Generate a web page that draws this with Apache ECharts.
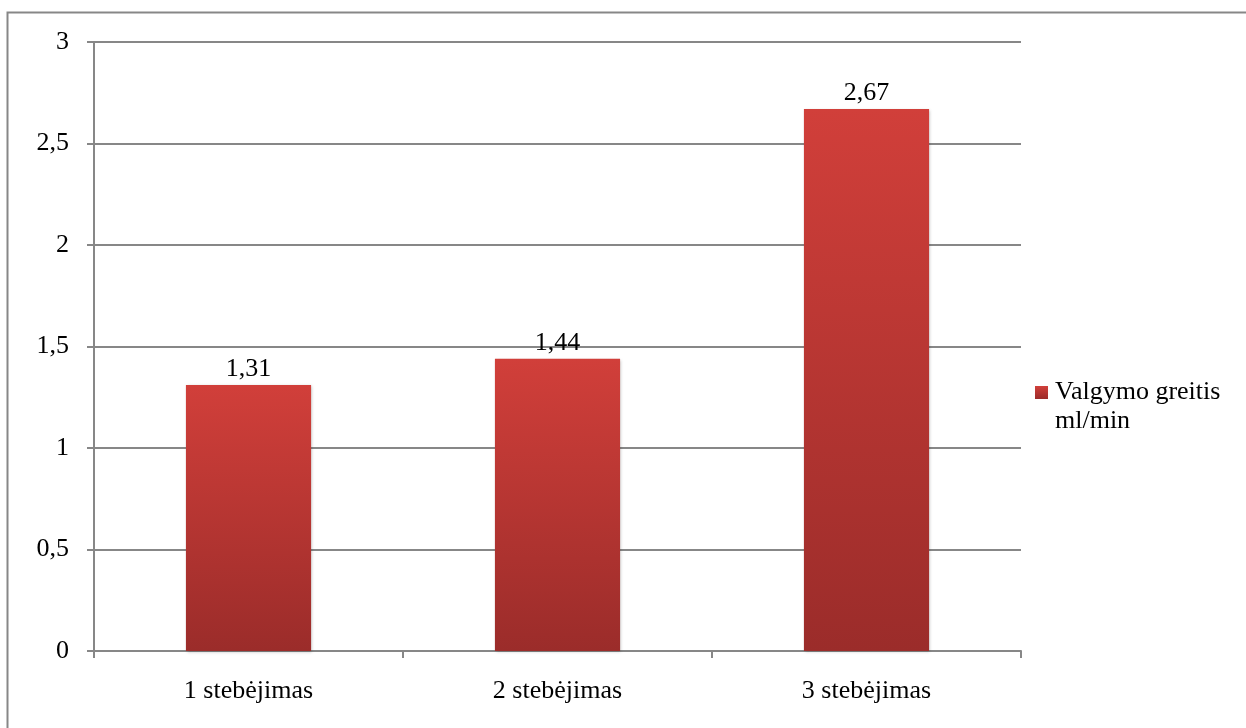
<!DOCTYPE html>
<html>
<head>
<meta charset="utf-8">
<script src="https://cdn.jsdelivr.net/npm/echarts@6/dist/echarts.min.js"></script>
<style>
  html, body { margin: 0; padding: 0; background: #fff; }
  #chart { width: 1246px; height: 728px; }
</style>
</head>
<body>
<div id="chart"></div>
<script>
// Observation rounds and eating speed (ml/min)
const categories = ['1 stebėjimas', '2 stebėjimas', '3 stebėjimas'];
const speedValues = [1.31, 1.44, 2.67];
const seriesName = 'Valgymo greitis\nml/min';

const fmt = v => String(v).replace('.', ',');
const serif = '"Liberation Serif", "DejaVu Serif", serif';
const axisGray = '#878787';

const chart = echarts.init(document.getElementById('chart'), null, { renderer: 'canvas' });

chart.setOption({
  animation: false,
  backgroundColor: '#ffffff',
  textStyle: { fontFamily: serif },
  graphic: [{
    // chart frame (runs past the right and bottom edges of the page)
    type: 'rect',
    shape: { x: 7.5, y: 12.5, width: 1260, height: 740 },
    style: { fill: 'none', stroke: axisGray, lineWidth: 2 },
    silent: true
  }],
  grid: { left: 94, right: 225, top: 42, bottom: 77, containLabel: false },
  legend: {
    orient: 'vertical',
    left: 1035,
    top: 349,
    padding: 0,
    itemWidth: 13,
    itemHeight: 13,
    itemGap: 0,
    icon: 'rect',
    // leading blank line keeps the marker level with the first text line
    formatter: name => '\n' + name,
    textStyle: { fontFamily: serif, fontSize: 26, color: '#000', lineHeight: 29, padding: [0, 0, 0, 2] },
    data: [seriesName]
  },
  xAxis: {
    type: 'category',
    data: categories,
    axisLine: { lineStyle: { color: axisGray, width: 2 } },
    axisTick: { show: true, alignWithLabel: false, length: 7, lineStyle: { color: axisGray, width: 2 } },
    axisLabel: { fontFamily: serif, fontSize: 26, color: '#000', margin: 27 }
  },
  yAxis: {
    type: 'value',
    min: 0,
    max: 3,
    interval: 0.5,
    axisLine: { show: true, lineStyle: { color: axisGray, width: 2 } },
    axisTick: { show: true, length: 7, lineStyle: { color: axisGray, width: 2 } },
    axisLabel: { fontFamily: serif, fontSize: 26, color: '#000', margin: 25, formatter: v => fmt(v) },
    splitLine: { lineStyle: { color: axisGray, width: 2 } }
  },
  series: [{
    name: seriesName,
    type: 'bar',
    data: speedValues,
    barWidth: '40.5%',
    itemStyle: {
      color: new echarts.graphic.LinearGradient(0, 0, 0, 1, [
        { offset: 0, color: '#d13f3a' },
        { offset: 1, color: '#9b2c2a' }
      ]),
      shadowColor: 'rgba(0,0,0,0.25)',
      shadowBlur: 3,
      shadowOffsetX: 1,
      shadowOffsetY: 1
    },
    label: {
      show: true,
      position: 'top',
      distance: 3,
      fontFamily: serif,
      fontSize: 26,
      color: '#000',
      formatter: p => fmt(p.value)
    }
  }]
});
</script>
</body>
</html>
